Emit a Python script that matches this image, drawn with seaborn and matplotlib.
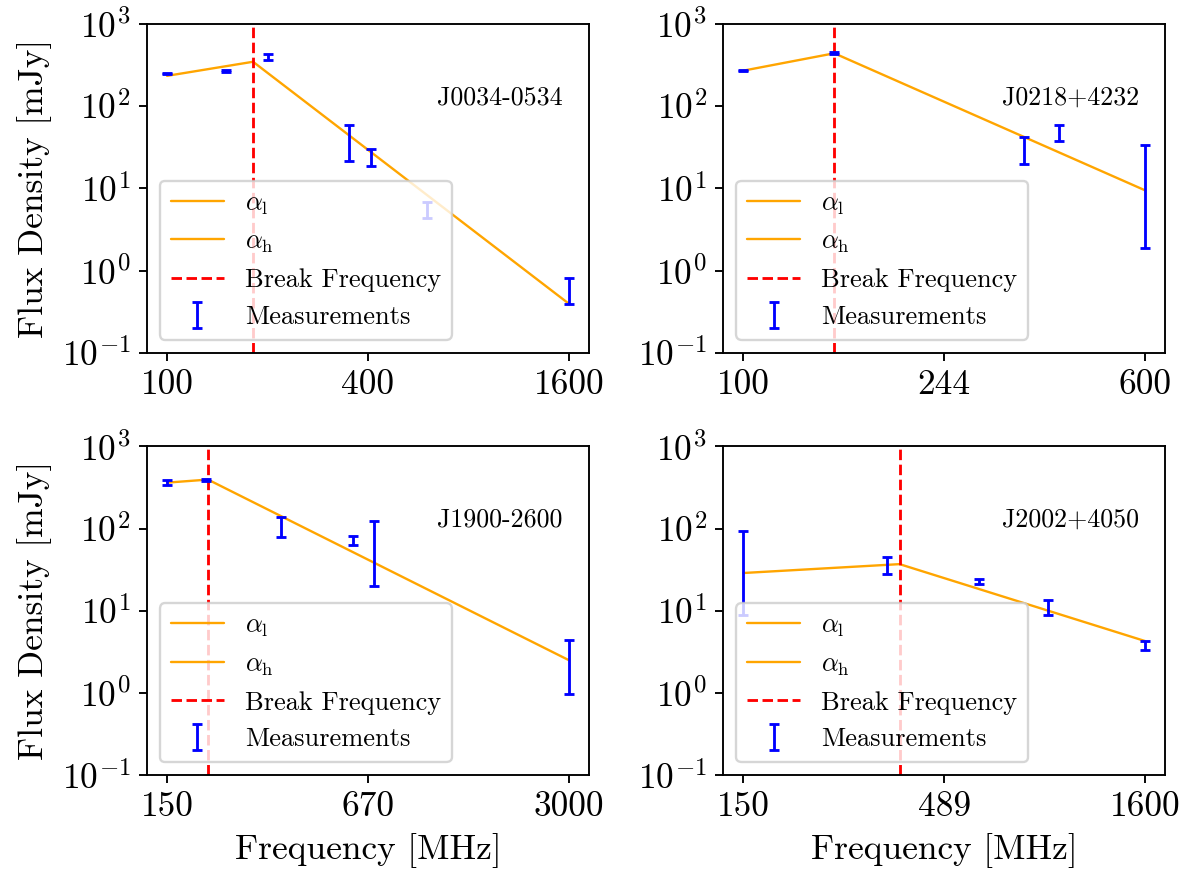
import numpy as np
import matplotlib
matplotlib.use("Agg")
import matplotlib.pyplot as plt
from matplotlib.ticker import FixedLocator, NullLocator
import seaborn as sns

# ---- measured flux densities (MHz, mJy) ----
names = ["J0034-0534", "J0218+4232", "J1900-2600", "J2002+4050"]

freq_j0034 = [100, 150, 200, 350, 408, 600, 1600]
flux_j0034 = [250, 267, 400, 40.2, 24.4, 5.6, 0.6]
err_j0034 = [4, 9, 37, 18.4, 5.5, 1.2, 0.21]

freq_j0218 = [100, 150, 350, 408, 600]
flux_j0218 = [270, 440, 30.8, 48, 17.7]
err_j0218 = [5, 12, 10.8, 10.6, 15.8]

freq_j1900 = [150, 200, 350, 600, 700, 3000]
flux_j1900 = [367, 391, 108, 72.6, 72.4, 2.72]
err_j1900 = [27, 15, 29, 9, 52.6, 1.75]

freq_j2002 = [150, 350, 600, 900, 1600]
flux_j2002 = [51.9, 36.6, 22.8, 11.1, 3.8]
err_j2002 = [42.9, 8.4, 1.8, 2.3, 0.45]

# ---- broken power-law fit parameters ----
break_freq = [181, 150, 203.5, 376.5]      # MHz
break_flux = [347, 440, 395, 37]           # mJy at the break
alpha_low = [0.665, 1.2, 0.28, 0.27]
alpha_high = [-3.11, -2.77, -1.88, -1.49]

freqs = [freq_j0034, freq_j0218, freq_j1900, freq_j2002]
fluxes = [flux_j0034, flux_j0218, flux_j1900, flux_j2002]
errors = [err_j0034, err_j0218, err_j1900, err_j2002]

sns.set_style("ticks", {
    "axes.edgecolor": "black", "xtick.color": "black", "ytick.color": "black",
    "text.color": "black", "axes.labelcolor": "black",
})
plt.rcParams.update({
    "font.family": "serif",
    "font.serif": ["cmr10"],
    "mathtext.fontset": "cm",
    "axes.formatter.use_mathtext": True,
    "axes.unicode_minus": False,
    "axes.linewidth": 0.8,
    "xtick.major.size": 3.5, "ytick.major.size": 3.5,
    "xtick.major.width": 0.8, "ytick.major.width": 0.8,
    "xtick.direction": "out", "ytick.direction": "out",
})

DPI = 170
fig, axes = plt.subplots(2, 2, figsize=(1188 / DPI, 878 / DPI), dpi=DPI)
fig.subplots_adjust(left=0.1237, right=0.9809, top=0.9727, bottom=0.117,
                    wspace=0.3037, hspace=0.2846)

LABEL_FS = 15
LEGEND_FS = 11.2

for i, ax in enumerate(axes.flat):
    nu = np.array(freqs[i], dtype=float)
    s = np.array(fluxes[i], dtype=float)
    e = np.array(errors[i], dtype=float)
    nb, sb = break_freq[i], break_flux[i]

    # model segments below and above the break
    nu_lo = np.array([nu.min(), nb])
    nu_hi = np.array([nb, nu.max()])
    s_lo = sb * (nu_lo / nb) ** alpha_low[i]
    s_hi = sb * (nu_hi / nb) ** alpha_high[i]

    ax.set_xscale("log")
    ax.set_yscale("log")
    sns.lineplot(x=nu_lo, y=s_lo, ax=ax, color="orange", lw=1.0,
                 label=r"$\alpha_\mathrm{l}$", legend=False)
    sns.lineplot(x=nu_hi, y=s_hi, ax=ax, color="orange", lw=1.0,
                 label=r"$\alpha_\mathrm{h}$", legend=False)
    ax.axvline(nb, color="red", ls="--", lw=1.2, label="Break Frequency")
    ax.errorbar(nu, s, yerr=e, fmt="none", ecolor="blue", elinewidth=1.2,
                capsize=2.2, capthick=1.2, label="Measurements")

    # 5% padding in log space around the measured band
    lo, hi = nu.min(), nu.max()
    pad = 0.05 * np.log10(hi / lo)
    ax.set_xlim(lo / 10 ** pad, hi * 10 ** pad)
    ax.set_ylim(1e-1, 1e3)

    ticks = [lo, np.sqrt(lo * hi), hi]
    ax.xaxis.set_major_locator(FixedLocator(ticks))
    ax.set_xticklabels([str(int(t)) for t in ticks])
    ax.xaxis.set_minor_locator(NullLocator())
    ax.yaxis.set_minor_locator(NullLocator())
    ax.tick_params(labelsize=LABEL_FS)

    ax.text(0.94, 0.777, names[i], transform=ax.transAxes, ha="right",
            va="center", fontsize=11)
    ax.legend(loc="lower left", fontsize=LEGEND_FS)

    if i % 2 == 0:
        ax.set_ylabel("Flux Density [mJy]", fontsize=LABEL_FS)
    if i >= 2:
        ax.set_xlabel("Frequency [MHz]", fontsize=LABEL_FS)

fig.savefig("out.png", dpi=DPI)
